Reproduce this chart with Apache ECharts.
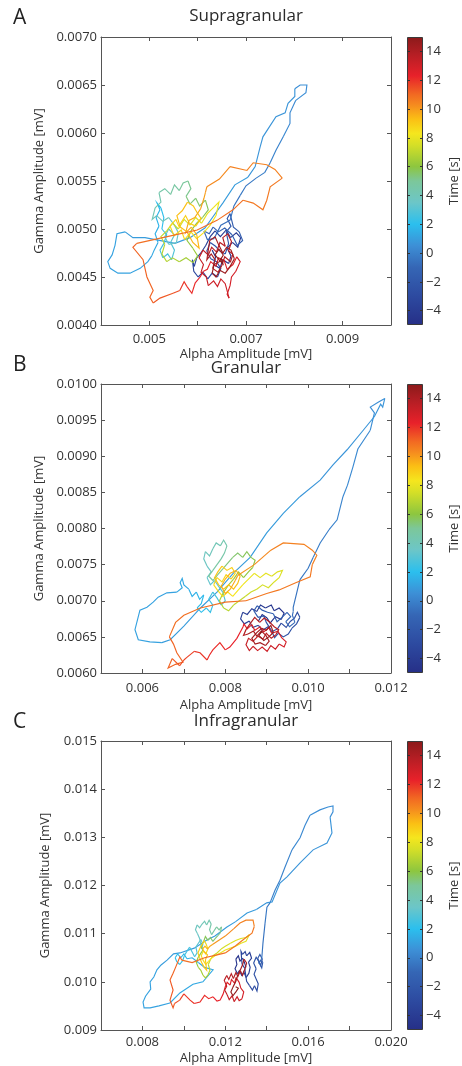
<!DOCTYPE html>
<html><head><meta charset="utf-8">
<script src="https://cdn.jsdelivr.net/npm/echarts@6/dist/echarts.min.js"></script>
<style>html,body{margin:0;padding:0;background:#fff}#c{width:462px;height:1066px}</style>
</head><body><div id="c"></div>
<script>
// ---------- labels ----------
const panelLetters = ['A', 'B', 'C'];
const panelTitles = ['Supragranular', 'Granular', 'Infragranular'];
const xName = 'Alpha Amplitude [mV]';
const yName = 'Gamma Amplitude [mV]';
const cbName = 'Time [s]';

// ---------- axes ----------
const xRanges = [[0.004, 0.010], [0.005, 0.012], [0.006, 0.020]];
const yRanges = [[0.0040, 0.0070], [0.0060, 0.0100], [0.009, 0.015]];
const xTickVals = [[0.005, 0.006, 0.007, 0.008, 0.009], [0.006, 0.007, 0.008, 0.009, 0.010, 0.011], [0.008, 0.010, 0.012, 0.014, 0.016, 0.018]];
const xLabelVals = [[0.005, 0.007, 0.009], [0.006, 0.008, 0.010, 0.012], [0.008, 0.012, 0.016, 0.020]];
const xDecimals = [3, 3, 3];
const yLabelVals = [
  [0.0040, 0.0045, 0.0050, 0.0055, 0.0060, 0.0065, 0.0070],
  [0.0060, 0.0065, 0.0070, 0.0075, 0.0080, 0.0085, 0.0090, 0.0095, 0.0100],
  [0.009, 0.010, 0.011, 0.012, 0.013, 0.014, 0.015]
];
const yDecimals = [4, 4, 3];
const timeRange = [-5, 15];
const timeTicks = [-4, -2, 0, 2, 4, 6, 8, 10, 12, 14];

// colormap (time -> colour)
const cmapTimes = [-5, -3, -1, 0.5, 2, 3.5, 5, 6, 7.5, 8.3, 9.3, 10.3, 11, 12.3, 13.8, 15];
const cmapColors = ['#262f87', '#2d4aa0', '#3566b5', '#3d8fd6', '#2bbfee', '#6cc6c8', '#7cc79a', '#8dc63f', '#d5df27', '#f5e61e', '#fbbf14', '#f58a1f', '#f26a22', '#e8212a', '#b51e24', '#8b1a1a'];

// ---------- trajectories: [alpha mV, gamma mV, time s] ----------
const A_traj = [
[0.00630,0.00478,-5.0],[0.00637,0.00471,-4.92],[0.00633,0.00463,-4.84],[0.00646,0.00459,-4.76],[0.00652,0.00468,-4.68],[0.00664,0.00464,-4.6],[0.00669,0.00472,-4.52],[0.00661,0.00480,-4.44],[0.00672,0.00486,-4.36],[0.00683,0.00481,-4.28],[0.00689,0.00491,-4.2],[0.00680,0.00496,-4.12],[0.00668,0.00491,-4.04],[0.00659,0.00499,-3.96],[0.00647,0.00492,-3.88],[0.00636,0.00498,-3.8],[0.00626,0.00492,-3.72],[0.00617,0.00483,-3.64],[0.00608,0.00476,-3.56],[0.00598,0.00470,-3.48],[0.00593,0.00461,-3.4],[0.00589,0.00468,-3.32],[0.00592,0.00456,-3.24],[0.00601,0.00450,-3.16],[0.00611,0.00455,-3.08],[0.00621,0.00448,-3.0],[0.00630,0.00454,-2.92],[0.00641,0.00450,-2.84],[0.00648,0.00459,-2.76],[0.00639,0.00466,-2.68],[0.00627,0.00469,-2.6],[0.00619,0.00477,-2.52],[0.00626,0.00486,-2.44],[0.00637,0.00482,-2.36],[0.00646,0.00477,-2.28],[0.00657,0.00474,-2.2],[0.00664,0.00485,-2.12],[0.00659,0.00497,-2.04],[0.00669,0.00503,-1.96],[0.00661,0.00511,-1.88],[0.00667,0.00516,-1.8],[0.00674,0.00502,-1.72],[0.00686,0.00497,-1.64],[0.00693,0.00488,-1.56],[0.00682,0.00483,-1.48],[0.00671,0.00494,-1.4],[0.00656,0.00501,-1.32],[0.00643,0.00497,-1.24],[0.00632,0.00502,-1.16],[0.00624,0.00495,-1.08],[0.00613,0.00498,-1.0],[0.00620,0.00489,-0.92],[0.00634,0.00490,-0.84],[0.00648,0.00504,-0.76],[0.00667,0.00509,-0.7],
[0.00675,0.00524,-0.5],[0.00688,0.00535,-0.4],[0.00700,0.00545,-0.3],[0.00721,0.00553,-0.2],[0.00739,0.00559,-0.1],[0.00750,0.00569,0.0],[0.00762,0.00582,0.1],[0.00777,0.00596,0.2],[0.00791,0.00610,0.3],[0.00791,0.00621,0.35],[0.00803,0.00634,0.4],[0.00824,0.00642,0.45],[0.00826,0.00650,0.5],[0.00812,0.00650,0.55],[0.00801,0.00646,0.6],[0.00801,0.00638,0.62],[0.00787,0.00631,0.65],[0.00781,0.00621,0.68],[0.00762,0.00617,0.7],[0.00735,0.00596,0.72],[0.00729,0.00585,0.75],[0.00719,0.00565,0.78],[0.00704,0.00554,0.8],[0.00677,0.00546,0.82],[0.00652,0.00527,0.85],[0.00632,0.00513,0.88],[0.00615,0.00501,0.9],[0.00584,0.00491,0.92],[0.00553,0.00485,0.94],[0.00491,0.00491,0.96],[0.00466,0.00491,0.98],[0.00450,0.00497,1.0],[0.00433,0.00495,1.02],[0.00429,0.00483,1.04],[0.00423,0.00473,1.06],[0.00414,0.00466,1.08],[0.00419,0.00459,1.1],[0.00435,0.00454,1.12],[0.00460,0.00454,1.14],[0.00481,0.00459,1.16],[0.00497,0.00466,1.18],[0.00505,0.00472,1.2],
[0.00510,0.00478,1.3],[0.00518,0.00486,1.4],[0.00512,0.00495,1.5],[0.00520,0.00503,1.6],[0.00514,0.00512,1.7],[0.00522,0.00520,1.8],[0.00516,0.00527,1.9],[0.00524,0.00522,2.0],[0.00530,0.00512,2.1],[0.00526,0.00500,2.2],[0.00536,0.00494,2.3],[0.00530,0.00485,2.4],[0.00522,0.00478,2.5],[0.00528,0.00470,2.6],[0.00538,0.00474,2.7],[0.00546,0.00468,2.8],[0.00552,0.00478,2.9],[0.00544,0.00486,3.0],[0.00552,0.00494,3.1],[0.00540,0.00500,3.2],[0.00532,0.00492,3.3],[0.00540,0.00484,3.4],[0.00556,0.00486,3.5],[0.00560,0.00496,3.6],
[0.00552,0.00504,3.7],[0.00540,0.00512,3.8],[0.00528,0.00508,3.9],[0.00515,0.00514,4.0],[0.00506,0.00510,4.1],[0.00512,0.00522,4.2],[0.00524,0.00528,4.3],[0.00520,0.00538,4.4],[0.00532,0.00542,4.5],[0.00544,0.00536,4.6],[0.00552,0.00546,4.7],[0.00562,0.00540,4.8],[0.00570,0.00548,4.9],[0.00580,0.00550,5.0],[0.00586,0.00542,5.1],[0.00576,0.00534,5.2],[0.00584,0.00526,5.3],[0.00596,0.00532,5.4],[0.00604,0.00524,5.5],[0.00616,0.00530,5.6],[0.00622,0.00520,5.7],[0.00610,0.00512,5.8],[0.00598,0.00506,5.9],[0.00586,0.00498,6.0],[0.00578,0.00488,6.1],
[0.00590,0.00480,6.2],[0.00600,0.00472,6.3],[0.00590,0.00465,6.4],[0.00576,0.00470,6.5],[0.00562,0.00466,6.6],[0.00548,0.00470,6.7],[0.00536,0.00466,6.8],[0.00526,0.00474,6.9],[0.00532,0.00484,7.0],[0.00524,0.00492,7.1],[0.00536,0.00498,7.2],[0.00548,0.00506,7.3],[0.00560,0.00500,7.4],[0.00572,0.00510,7.5],[0.00584,0.00504,7.6],[0.00596,0.00512,7.7],[0.00608,0.00506,7.8],[0.00620,0.00516,7.9],[0.00632,0.00522,8.0],[0.00644,0.00528,8.1],[0.00638,0.00514,8.2],[0.00626,0.00504,8.3],[0.00612,0.00496,8.4],
[0.00598,0.00490,8.5],[0.00586,0.00497,8.55],[0.00573,0.00489,8.6],[0.00566,0.00499,8.65],[0.00551,0.00493,8.7],[0.00543,0.00503,8.75],[0.00555,0.00510,8.8],[0.00561,0.00503,8.85],[0.00575,0.00514,8.9],[0.00583,0.00506,8.95],[0.00596,0.00503,9.0],[0.00607,0.00511,9.05],[0.00599,0.00517,9.1],[0.00591,0.00524,9.15],[0.00579,0.00528,9.2],[0.00568,0.00519,9.25],[0.00557,0.00514,9.3],[0.00564,0.00502,9.35],[0.00578,0.00497,9.4],[0.00590,0.00486,9.45],[0.00603,0.00480,9.5],[0.00598,0.00494,9.55],[0.00587,0.00502,9.6],[0.00575,0.00496,9.65],[0.00582,0.00509,9.7],[0.00594,0.00512,9.75],[0.00606,0.00521,9.8],[0.00613,0.00532,9.85],[0.00616,0.00538,9.9],
[0.00619,0.00544,10.3],[0.00645,0.00552,10.34],[0.00667,0.00565,10.38],[0.00702,0.00561,10.42],[0.00715,0.00569,10.46],[0.00743,0.00567,10.5],[0.00760,0.00562,10.54],[0.00775,0.00553,10.58],[0.00750,0.00544,10.62],[0.00743,0.00530,10.66],[0.00735,0.00520,10.7],[0.00715,0.00527,10.74],[0.00694,0.00530,10.78],[0.00673,0.00520,10.82],[0.00640,0.00509,10.86],[0.00599,0.00499,10.9],[0.00537,0.00492,10.94],[0.00474,0.00485,10.98],[0.00466,0.00481,11.02],[0.00487,0.00468,11.06],[0.00495,0.00450,11.1],[0.00508,0.00436,11.14],[0.00501,0.00429,11.18],[0.00508,0.00423,11.22],[0.00522,0.00428,11.26],[0.00549,0.00433,11.3],
[0.00563,0.00436,11.8],[0.00572,0.00445,11.9],[0.00578,0.00440,12.0],[0.00588,0.00433,12.1],[0.00595,0.00444,12.2],[0.00605,0.00450,12.3],[0.00612,0.00456,12.4],
[0.00620,0.00458,12.5],[0.00627,0.00466,12.54],[0.00638,0.00461,12.58],[0.00643,0.00470,12.62],[0.00655,0.00467,12.66],[0.00661,0.00458,12.7],[0.00673,0.00463,12.74],[0.00681,0.00471,12.78],[0.00688,0.00466,12.82],[0.00679,0.00456,12.86],[0.00670,0.00450,12.9],[0.00667,0.00441,12.94],[0.00661,0.00432,12.98],[0.00665,0.00428,13.0],[0.00657,0.00443,13.04],[0.00648,0.00448,13.08],[0.00641,0.00440,13.12],[0.00633,0.00446,13.16],[0.00622,0.00441,13.2],[0.00618,0.00450,13.24],[0.00607,0.00455,13.28],[0.00612,0.00463,13.32],[0.00603,0.00470,13.36],[0.00611,0.00478,13.4],[0.00622,0.00473,13.44],[0.00629,0.00481,13.48],[0.00639,0.00476,13.52],[0.00646,0.00486,13.56],[0.00657,0.00482,13.6],[0.00652,0.00491,13.64],[0.00662,0.00495,13.68],[0.00670,0.00487,13.72],[0.00664,0.00477,13.76],[0.00673,0.00474,13.8],[0.00668,0.00466,13.84],[0.00656,0.00471,13.88],[0.00650,0.00462,13.92],[0.00642,0.00455,13.96],[0.00631,0.00459,14.0],[0.00636,0.00468,14.04],[0.00628,0.00474,14.08],[0.00619,0.00468,14.12],[0.00625,0.00488,14.16],[0.00636,0.00492,14.2],[0.00643,0.00484,14.24],[0.00652,0.00475,14.28],[0.00660,0.00481,14.32],[0.00669,0.00478,14.36],[0.00676,0.00469,14.4],[0.00666,0.00460,14.44],[0.00657,0.00454,14.48],[0.00646,0.00457,14.52],[0.00638,0.00450,14.56],[0.00630,0.00454,14.6],[0.00634,0.00463,14.64],[0.00645,0.00466,14.68],[0.00653,0.00473,14.72],[0.00644,0.00479,14.76],[0.00636,0.00473,14.8],[0.00644,0.00468,14.85],[0.00652,0.00464,14.9],[0.00648,0.00470,15.0]
];

const B_traj = [
[0.00880,0.00672,-5.0],[0.00889,0.00681,-4.92],[0.00901,0.00676,-4.84],[0.00908,0.00669,-4.76],[0.00921,0.00678,-4.68],[0.00935,0.00674,-4.6],[0.00942,0.00683,-4.52],[0.00930,0.00690,-4.44],[0.00918,0.00686,-4.36],[0.00911,0.00694,-4.28],[0.00897,0.00690,-4.2],[0.00885,0.00694,-4.12],[0.00876,0.00685,-4.04],[0.00864,0.00689,-3.96],[0.00853,0.00681,-3.88],[0.00842,0.00684,-3.8],[0.00837,0.00675,-3.72],[0.00846,0.00668,-3.64],[0.00858,0.00672,-3.56],[0.00866,0.00663,-3.48],[0.00880,0.00666,-3.4],[0.00889,0.00659,-3.32],[0.00903,0.00664,-3.24],[0.00912,0.00657,-3.16],[0.00926,0.00661,-3.08],[0.00935,0.00669,-3.0],[0.00947,0.00663,-2.92],[0.00956,0.00671,-2.84],[0.00967,0.00676,-2.76],[0.00974,0.00684,-2.68],[0.00980,0.00677,-2.6],[0.00972,0.00668,-2.52],[0.00961,0.00662,-2.44],[0.00952,0.00654,-2.36],[0.00940,0.00650,-2.28],[0.00928,0.00655,-2.2],[0.00919,0.00649,-2.12],[0.00911,0.00659,-2.04],[0.00899,0.00670,-1.96],[0.00893,0.00679,-1.88],[0.00879,0.00677,-1.8],[0.00869,0.00686,-1.72],[0.00877,0.00693,-1.64],[0.00889,0.00687,-1.56],[0.00902,0.00684,-1.48],[0.00916,0.00682,-1.4],[0.00925,0.00671,-1.32],[0.00937,0.00677,-1.24],[0.00949,0.00684,-1.16],[0.00958,0.00678,-1.08],[0.00946,0.00671,-1.0],[0.00955,0.00664,-0.92],[0.00968,0.00670,-0.84],[0.00962,0.00680,-0.76],[0.00964,0.00685,-0.7],
[0.00964,0.00691,-0.5],[0.00980,0.00729,-0.4],[0.01000,0.00745,-0.3],[0.01012,0.00760,-0.2],[0.01029,0.00780,-0.1],[0.01050,0.00798,0.0],[0.01070,0.00812,0.1],[0.01084,0.00844,0.2],[0.01095,0.00860,0.25],[0.01108,0.00885,0.3],[0.01120,0.00910,0.35],[0.01150,0.00936,0.4],[0.01160,0.00960,0.45],[0.01150,0.00968,0.5],[0.01170,0.00975,0.55],[0.01185,0.00980,0.6],[0.01180,0.00968,0.62],[0.01175,0.00972,0.65],
[0.01160,0.00955,0.68],[0.01133,0.00936,0.7],[0.01094,0.00909,0.72],[0.01060,0.00888,0.75],[0.01029,0.00867,0.78],[0.00980,0.00844,0.8],[0.00940,0.00821,0.82],[0.00900,0.00794,0.85],[0.00860,0.00760,0.88],[0.00819,0.00738,0.9],[0.00780,0.00712,0.92],[0.00740,0.00690,0.94],[0.00700,0.00665,0.96],[0.00667,0.00646,0.98],
[0.00647,0.00642,1.0],[0.00618,0.00643,1.02],[0.00590,0.00646,1.04],[0.00582,0.00660,1.06],[0.00590,0.00678,1.08],[0.00594,0.00687,1.1],[0.00611,0.00691,1.12],[0.00626,0.00698,1.14],[0.00638,0.00705,1.16],[0.00659,0.00711,1.18],[0.00683,0.00712,1.2],[0.00696,0.00718,1.22],[0.00691,0.00725,1.24],[0.00696,0.00731,1.26],
[0.00700,0.00722,1.3],[0.00712,0.00716,1.4],[0.00720,0.00706,1.5],[0.00730,0.00712,1.6],[0.00738,0.00702,1.7],[0.00748,0.00708,1.8],[0.00742,0.00696,1.9],[0.00732,0.00690,2.0],[0.00742,0.00684,2.1],[0.00754,0.00690,2.2],[0.00764,0.00684,2.3],[0.00770,0.00694,2.4],[0.00760,0.00702,2.5],[0.00770,0.00712,2.6],[0.00780,0.00704,2.7],[0.00790,0.00694,2.8],[0.00800,0.00700,2.9],[0.00794,0.00712,3.0],[0.00784,0.00720,3.1],[0.00774,0.00728,3.2],[0.00764,0.00722,3.3],[0.00756,0.00732,3.4],[0.00766,0.00740,3.5],
[0.00756,0.00748,3.6],[0.00748,0.00758,3.7],[0.00752,0.00768,3.8],[0.00762,0.00762,3.9],[0.00770,0.00772,4.0],[0.00778,0.00780,4.1],[0.00788,0.00776,4.2],[0.00796,0.00784,4.3],[0.00804,0.00776,4.4],[0.00798,0.00766,4.5],[0.00790,0.00758,4.6],[0.00780,0.00750,4.7],[0.00770,0.00742,4.8],[0.00760,0.00734,4.9],[0.00770,0.00728,5.0],[0.00782,0.00736,5.1],[0.00794,0.00744,5.2],[0.00806,0.00752,5.3],[0.00818,0.00760,5.4],[0.00830,0.00766,5.5],[0.00842,0.00760,5.6],[0.00852,0.00768,5.7],[0.00862,0.00760,5.8],[0.00872,0.00756,5.9],[0.00866,0.00746,6.0],
[0.00856,0.00740,6.1],[0.00844,0.00732,6.2],[0.00832,0.00740,6.3],[0.00820,0.00730,6.4],[0.00808,0.00722,6.5],[0.00796,0.00712,6.6],[0.00786,0.00700,6.7],[0.00796,0.00690,6.8],[0.00808,0.00686,6.9],[0.00820,0.00694,7.0],[0.00834,0.00700,7.1],[0.00848,0.00706,7.2],[0.00862,0.00712,7.3],[0.00876,0.00716,7.4],[0.00890,0.00722,7.5],[0.00904,0.00718,7.55],[0.00918,0.00726,7.6],[0.00930,0.00732,7.65],[0.00938,0.00742,7.7],[0.00926,0.00740,7.75],[0.00912,0.00734,7.8],[0.00898,0.00738,7.85],[0.00884,0.00732,7.9],[0.00870,0.00738,8.0],[0.00856,0.00730,8.1],[0.00842,0.00722,8.2],[0.00830,0.00714,8.3],
[0.00818,0.00706,8.4],[0.00806,0.00712,8.45],[0.00794,0.00706,8.5],[0.00782,0.00714,8.55],[0.00772,0.00722,8.6],[0.00780,0.00732,8.65],[0.00792,0.00726,8.7],[0.00802,0.00736,8.75],[0.00814,0.00730,8.8],[0.00824,0.00738,8.85],[0.00816,0.00746,8.9],[0.00804,0.00742,8.95],[0.00792,0.00748,9.0],[0.00782,0.00740,9.05],[0.00774,0.00732,9.1],[0.00784,0.00722,9.15],[0.00796,0.00716,9.2],[0.00808,0.00722,9.25],[0.00820,0.00716,9.3],[0.00830,0.00724,9.35],[0.00836,0.00734,9.4],[0.00826,0.00742,9.45],[0.00812,0.00738,9.5],[0.00800,0.00730,9.55],[0.00790,0.00720,9.6],[0.00800,0.00710,9.65],[0.00812,0.00716,9.7],[0.00824,0.00728,9.8],[0.00830,0.00735,9.9],
[0.00870,0.00750,10.34],[0.00910,0.00770,10.38],[0.00940,0.00780,10.42],[0.00990,0.00778,10.46],[0.01010,0.00770,10.5],[0.01021,0.00763,10.54],[0.01010,0.00750,10.58],[0.01005,0.00733,10.62],[0.00970,0.00725,10.66],[0.00930,0.00715,10.7],[0.00900,0.00710,10.74],[0.00850,0.00700,10.78],[0.00800,0.00698,10.82],[0.00740,0.00690,10.86],[0.00700,0.00680,10.9],[0.00680,0.00670,10.94],[0.00665,0.00650,10.98],[0.00675,0.00640,11.02],[0.00683,0.00628,11.06],[0.00698,0.00615,11.1],[0.00680,0.00612,11.14],[0.00662,0.00607,11.18],[0.00672,0.00620,11.22],[0.00690,0.00610,11.26],
[0.00700,0.00618,11.6],[0.00708,0.00622,11.7],[0.00725,0.00630,11.8],[0.00739,0.00628,11.9],[0.00756,0.00618,12.0],[0.00762,0.00625,12.05],[0.00770,0.00632,12.1],[0.00787,0.00642,12.15],[0.00800,0.00632,12.2],[0.00811,0.00636,12.25],[0.00828,0.00648,12.3],[0.00843,0.00664,12.4],
[0.00845,0.00668,12.5],[0.00853,0.00661,12.54],[0.00864,0.00667,12.58],[0.00871,0.00659,12.62],[0.00884,0.00664,12.66],[0.00893,0.00657,12.7],[0.00905,0.00663,12.74],[0.00912,0.00655,12.78],[0.00927,0.00658,12.82],[0.00936,0.00649,12.86],[0.00947,0.00643,12.9],[0.00942,0.00636,12.94],[0.00930,0.00640,12.98],[0.00921,0.00633,13.02],[0.00910,0.00638,13.06],[0.00901,0.00630,13.1],[0.00889,0.00636,13.14],[0.00878,0.00631,13.18],[0.00867,0.00637,13.22],[0.00858,0.00631,13.26],[0.00850,0.00639,13.3],[0.00856,0.00648,13.34],[0.00867,0.00644,13.38],[0.00879,0.00651,13.42],[0.00891,0.00647,13.46],[0.00899,0.00655,13.5],[0.00911,0.00648,13.54],[0.00922,0.00653,13.58],[0.00929,0.00660,13.62],[0.00918,0.00664,13.66],[0.00906,0.00671,13.7],[0.00894,0.00676,13.74],[0.00883,0.00670,13.78],[0.00871,0.00677,13.82],[0.00861,0.00669,13.86],[0.00850,0.00660,13.9],[0.00844,0.00652,13.94],[0.00855,0.00654,13.98],[0.00868,0.00658,14.02],[0.00876,0.00651,14.06],[0.00887,0.00658,14.1],[0.00898,0.00652,14.14],[0.00906,0.00644,14.18],[0.00897,0.00638,14.22],[0.00884,0.00642,14.26],[0.00872,0.00640,14.3],[0.00864,0.00648,14.34],[0.00876,0.00656,14.38],[0.00888,0.00662,14.42],[0.00899,0.00659,14.46],[0.00910,0.00666,14.5],[0.00916,0.00656,14.55],[0.00905,0.00650,14.6],[0.00893,0.00645,14.65],[0.00881,0.00652,14.7],[0.00889,0.00658,14.8],[0.00884,0.00655,15.0]
];

const C_traj = [
[0.01300,0.01030,-5.0],[0.01292,0.01041,-4.92],[0.01284,0.01049,-4.84],[0.01271,0.01043,-4.76],[0.01263,0.01054,-4.68],[0.01251,0.01047,-4.6],[0.01256,0.01036,-4.52],[0.01247,0.01027,-4.44],[0.01259,0.01017,-4.36],[0.01268,0.01023,-4.28],[0.01281,0.01012,-4.2],[0.01289,0.01021,-4.12],[0.01301,0.01009,-4.04],[0.01314,0.01018,-3.96],[0.01320,0.01030,-3.88],[0.01312,0.01041,-3.8],[0.01327,0.01049,-3.72],[0.01318,0.01061,-3.64],[0.01303,0.01054,-3.56],[0.01296,0.01063,-3.48],[0.01283,0.01057,-3.4],[0.01276,0.01063,-3.32],[0.01281,0.01037,-3.24],[0.01294,0.01028,-3.16],[0.01303,0.01001,-3.08],[0.01317,0.00992,-3.0],[0.01331,0.00983,-2.92],[0.01341,0.00992,-2.84],[0.01353,0.00981,-2.76],[0.01359,0.00996,-2.68],[0.01349,0.01006,-2.6],[0.01339,0.01016,-2.52],[0.01349,0.01027,-2.44],[0.01337,0.01039,-2.36],[0.01349,0.01051,-2.28],[0.01361,0.01043,-2.2],[0.01371,0.01034,-2.12],[0.01379,0.01047,-2.04],[0.01367,0.01057,-1.96],[0.01357,0.01049,-1.88],[0.01364,0.01039,-1.8],[0.01376,0.01029,-1.72],[0.01381,0.01041,-1.64],[0.01370,0.01045,-1.5],[0.01362,0.01038,-1.3],[0.01372,0.01046,-1.0],[0.01376,0.01048,-0.7],
[0.01382,0.01081,-0.5],[0.01392,0.01122,-0.4],[0.01401,0.01155,-0.3],[0.01416,0.01164,-0.2],[0.01440,0.01190,-0.1],[0.01464,0.01211,0.0],[0.01488,0.01238,0.1],[0.01522,0.01274,0.2],[0.01561,0.01299,0.3],[0.01585,0.01325,0.35],[0.01609,0.01346,0.4],[0.01657,0.01357,0.45],[0.01696,0.01363,0.5],[0.01720,0.01365,0.55],[0.01720,0.01353,0.58],[0.01706,0.01342,0.6],[0.01715,0.01309,0.62],[0.01691,0.01288,0.65],[0.01624,0.01274,0.68],[0.01561,0.01247,0.7],[0.01498,0.01218,0.72],[0.01464,0.01205,0.74],[0.01426,0.01166,0.76],[0.01400,0.01164,0.78],[0.01350,0.01150,0.8],[0.01305,0.01143,0.82],[0.01250,0.01125,0.84],[0.01208,0.01114,0.86],[0.01150,0.01095,0.88],[0.01111,0.01087,0.9],[0.01050,0.01070,0.92],[0.00981,0.01060,0.94],[0.00950,0.01058,0.96],[0.00919,0.01045,0.98],[0.00890,0.01035,1.0],[0.00870,0.01025,1.02],[0.00855,0.01010,1.04],[0.00837,0.01000,1.06],[0.00840,0.00985,1.08],[0.00815,0.00970,1.1],[0.00803,0.00958,1.12],[0.00808,0.00946,1.14],[0.00837,0.00946,1.16],[0.00880,0.00950,1.18],[0.00933,0.00956,1.2],[0.00981,0.00977,1.22],[0.01044,0.00995,1.24],[0.01092,0.01000,1.26],[0.01141,0.01025,1.28],
[0.01100,0.01030,1.3],[0.01070,0.01040,1.4],[0.01040,0.01050,1.5],[0.01015,0.01048,1.6],[0.01000,0.01058,1.7],[0.00985,0.01050,1.8],[0.00970,0.01058,1.9],[0.00958,0.01050,2.0],[0.00966,0.01042,2.1],[0.00980,0.01036,2.2],[0.00994,0.01044,2.3],[0.01004,0.01056,2.4],[0.01016,0.01064,2.5],[0.01028,0.01072,2.6],[0.01040,0.01062,2.7],[0.01052,0.01052,2.8],[0.01064,0.01060,2.9],[0.01058,0.01072,3.0],[0.01070,0.01080,3.1],[0.01082,0.01088,3.2],[0.01092,0.01078,3.3],[0.01086,0.01068,3.4],
[0.01076,0.01090,3.5],[0.01066,0.01100,3.6],[0.01056,0.01108,3.7],[0.01064,0.01118,3.8],[0.01076,0.01112,3.9],[0.01088,0.01120,4.0],[0.01100,0.01126,4.1],[0.01110,0.01118,4.2],[0.01122,0.01128,4.3],[0.01132,0.01120,4.4],[0.01124,0.01108,4.5],[0.01134,0.01098,4.6],[0.01146,0.01106,4.7],[0.01158,0.01114,4.8],[0.01170,0.01108,4.9],[0.01182,0.01114,5.0],[0.01176,0.01102,5.1],[0.01164,0.01096,5.2],[0.01152,0.01090,5.3],[0.01140,0.01084,5.4],[0.01128,0.01092,5.5],[0.01116,0.01086,5.6],[0.01104,0.01094,5.7],[0.01094,0.01082,5.8],[0.01084,0.01074,5.9],[0.01092,0.01066,6.0],
[0.01080,0.01058,6.1],[0.01068,0.01050,6.2],[0.01060,0.01040,6.3],[0.01070,0.01030,6.4],[0.01082,0.01024,6.5],[0.01092,0.01014,6.6],[0.01104,0.01008,6.7],[0.01116,0.01014,6.8],[0.01126,0.01024,6.9],[0.01118,0.01036,7.0],[0.01128,0.01046,7.1],[0.01140,0.01054,7.2],[0.01160,0.01060,7.3],[0.01180,0.01068,7.4],[0.01200,0.01074,7.5],[0.01225,0.01080,7.6],[0.01250,0.01086,7.65],[0.01275,0.01090,7.7],[0.01300,0.01092,7.75],[0.01316,0.01098,7.8],[0.01300,0.01084,7.85],[0.01276,0.01080,7.9],[0.01250,0.01074,7.95],[0.01225,0.01070,8.0],[0.01200,0.01066,8.05],[0.01176,0.01060,8.1],[0.01150,0.01054,8.2],[0.01130,0.01048,8.3],
[0.01118,0.01042,8.4],[0.01106,0.01036,8.45],[0.01094,0.01044,8.5],[0.01084,0.01054,8.55],[0.01094,0.01064,8.6],[0.01106,0.01058,8.65],[0.01116,0.01068,8.7],[0.01108,0.01078,8.75],[0.01098,0.01086,8.8],[0.01088,0.01078,8.85],[0.01078,0.01070,8.9],[0.01068,0.01060,8.95],[0.01076,0.01050,9.0],[0.01086,0.01040,9.05],[0.01098,0.01030,9.1],[0.01110,0.01024,9.15],[0.01104,0.01046,9.2],[0.01114,0.01056,9.25],[0.01100,0.01062,9.3],[0.01090,0.01068,9.4],[0.01102,0.01074,9.5],[0.01114,0.01068,9.6],[0.01126,0.01074,9.7],[0.01140,0.01078,9.8],
[0.01200,0.01095,10.35],[0.01240,0.01110,10.4],[0.01271,0.01122,10.45],[0.01300,0.01128,10.5],[0.01334,0.01128,10.55],[0.01340,0.01115,10.6],[0.01329,0.01101,10.65],[0.01300,0.01092,10.7],[0.01250,0.01075,10.75],[0.01200,0.01060,10.8],[0.01150,0.01055,10.85],[0.01100,0.01050,10.9],[0.01040,0.01040,10.95],[0.00990,0.01045,11.0],[0.00981,0.01052,11.05],[0.00960,0.01030,11.1],[0.00948,0.01018,11.15],[0.00933,0.01004,11.2],[0.00948,0.00983,11.25],[0.00933,0.00962,11.3],[0.00948,0.00946,11.35],[0.00955,0.00955,11.4],
[0.00980,0.00962,11.7],[0.01000,0.00975,11.8],[0.01030,0.00962,11.9],[0.01050,0.00955,12.0],[0.01078,0.00958,12.05],[0.01100,0.00972,12.1],[0.01120,0.00965,12.15],[0.01141,0.00969,12.2],[0.01160,0.00960,12.25],[0.01175,0.00962,12.3],[0.01190,0.00975,12.35],
[0.01200,0.00990,12.5],[0.01209,0.00999,12.55],[0.01223,0.00993,12.6],[0.01230,0.01005,12.66],[0.01245,0.00997,12.72],[0.01252,0.01009,12.78],[0.01267,0.00999,12.84],[0.01275,0.00987,12.9],[0.01289,0.00979,12.96],[0.01281,0.00965,13.02],[0.01267,0.00961,13.08],[0.01257,0.00969,13.14],[0.01243,0.00959,13.2],[0.01233,0.00971,13.26],[0.01219,0.00963,13.32],[0.01209,0.00973,13.38],[0.01197,0.00983,13.44],[0.01207,0.00991,13.5],[0.01195,0.01003,13.56],[0.01207,0.01013,13.62],[0.01217,0.01005,13.68],[0.01229,0.01017,13.74],[0.01239,0.01007,13.8],[0.01251,0.01019,13.86],[0.01261,0.01011,13.92],[0.01273,0.01023,13.98],[0.01283,0.01013,14.04],[0.01295,0.01027,14.1],[0.01303,0.01039,14.16],[0.01291,0.01047,14.22],[0.01283,0.01035,14.28],[0.01273,0.01025,14.34],[0.01261,0.01015,14.4],[0.01251,0.01001,14.48],[0.01237,0.00989,14.56],[0.01227,0.00979,14.64],[0.01237,0.00971,14.72],[0.01251,0.00979,14.8],[0.01263,0.00987,14.9],[0.01250,0.00990,15.0]
];

const trajectories = [A_traj, B_traj, C_traj];

// ---------- helpers ----------
function hexToRgb(h) { return [parseInt(h.slice(1,3),16), parseInt(h.slice(3,5),16), parseInt(h.slice(5,7),16)]; }
function colorAt(t) {
  if (t <= cmapTimes[0]) return cmapColors[0];
  for (let i = 1; i < cmapTimes.length; i++) {
    if (t <= cmapTimes[i]) {
      const f = (t - cmapTimes[i-1]) / (cmapTimes[i] - cmapTimes[i-1]);
      const a = hexToRgb(cmapColors[i-1]), b = hexToRgb(cmapColors[i]);
      const c = a.map((v, k) => Math.round(v + (b[k] - v) * f));
      return 'rgb(' + c.join(',') + ')';
    }
  }
  return cmapColors[cmapColors.length - 1];
}
function buildSegments(traj) {
  const segs = [];
  let cur = null, curBin = null;
  for (let i = 0; i < traj.length - 1; i++) {
    const tm = (traj[i][2] + traj[i+1][2]) / 2;
    const bin = Math.floor((tm - timeRange[0]) / 0.2);
    if (bin !== curBin) {
      cur = { coords: [[traj[i][0], traj[i][1]]], lineStyle: { color: colorAt(timeRange[0] + (bin + 0.5) * 0.2) } };
      segs.push(cur); curBin = bin;
    }
    cur.coords.push([traj[i+1][0], traj[i+1][1]]);
  }
  return segs;
}

// ---------- layout ----------
const FONT = '"Open Sans", "DejaVu Sans", sans-serif';
const TXT = '#333';
const AX = '#555';
const gridTops = [37, 384, 741];
const gridHeights = [288, 289, 289];
const plotLeft = 101, plotWidth = 290;
const cbLeft = 407, cbWidth = 23;
const letterTops = [8, 355, 712];
const titleTops = [8, 360, 713];
const xLabelMargins = [8, 9, 6];
const xNameGaps = [23, 26, 22];

const grids = [], xAxes = [], yAxes = [], series = [], graphics = [];
const gradStops = [];
for (let i = cmapTimes.length - 1; i >= 0; i--) {
  gradStops.push({ offset: (timeRange[1] - cmapTimes[i]) / (timeRange[1] - timeRange[0]), color: cmapColors[i] });
}

for (let p = 0; p < 3; p++) grids.push({ left: plotLeft, top: gridTops[p], width: plotWidth, height: gridHeights[p] });
for (let p = 0; p < 3; p++) grids.push({ left: cbLeft, top: gridTops[p], width: cbWidth, height: gridHeights[p] });

const tickStyle = { color: AX, width: 1 };
for (let p = 0; p < 3; p++) {
  const xf = v => v.toFixed(xDecimals[p]);
  const yf = v => v.toFixed(yDecimals[p]);
  xAxes.push({
    gridIndex: p, type: 'value', position: 'bottom', min: xRanges[p][0], max: xRanges[p][1],
    axisLine: { show: true, onZero: false, lineStyle: { color: AX } },
    axisTick: { show: true, inside: true, length: 4, customValues: xTickVals[p], lineStyle: tickStyle },
    axisLabel: { show: true, customValues: xLabelVals[p], formatter: xf, color: TXT, fontSize: 13, fontFamily: FONT, margin: xLabelMargins[p] },
    splitLine: { show: false },
    name: xName, nameLocation: 'middle', nameGap: xNameGaps[p],
    nameTextStyle: { color: TXT, fontSize: 13, fontFamily: FONT }, z: 5
  });
  xAxes.push({
    gridIndex: p, type: 'value', position: 'top', min: xRanges[p][0], max: xRanges[p][1],
    axisLine: { show: true, onZero: false, lineStyle: { color: AX } },
    axisTick: { show: true, inside: true, length: 4, customValues: xTickVals[p], lineStyle: tickStyle },
    axisLabel: { show: false }, splitLine: { show: false }, z: 5
  });
  yAxes.push({
    gridIndex: p, type: 'value', position: 'left', min: yRanges[p][0], max: yRanges[p][1],
    axisLine: { show: true, onZero: false, lineStyle: { color: AX } },
    axisTick: { show: true, inside: true, length: 4, customValues: yLabelVals[p], lineStyle: tickStyle },
    axisLabel: { show: true, customValues: yLabelVals[p], formatter: yf, color: TXT, fontSize: 13, fontFamily: FONT, margin: 4 },
    splitLine: { show: false },
    name: yName, nameLocation: 'middle', nameGap: 49,
    nameTextStyle: { color: TXT, fontSize: 13, fontFamily: FONT }, z: 5
  });
  yAxes.push({
    gridIndex: p, type: 'value', position: 'right', min: yRanges[p][0], max: yRanges[p][1],
    axisLine: { show: true, onZero: false, lineStyle: { color: AX } },
    axisTick: { show: true, inside: true, length: 4, customValues: yLabelVals[p], lineStyle: tickStyle },
    axisLabel: { show: false }, splitLine: { show: false }, z: 5
  });
}
for (let p = 0; p < 3; p++) {
  xAxes.push({ gridIndex: 3 + p, type: 'value', min: 0, max: 1, show: false });
  yAxes.push({
    gridIndex: 3 + p, type: 'value', position: 'left', min: timeRange[0], max: timeRange[1],
    axisLine: { show: false }, axisLabel: { show: false }, splitLine: { show: false },
    axisTick: { show: true, inside: true, length: 3, customValues: timeTicks, lineStyle: { color: '#333' } }, z: 6
  });
  yAxes.push({
    gridIndex: 3 + p, type: 'value', position: 'right', min: timeRange[0], max: timeRange[1],
    axisLine: { show: false }, splitLine: { show: false },
    axisTick: { show: true, inside: true, length: 3, customValues: timeTicks, lineStyle: { color: '#333' } },
    axisLabel: { show: true, customValues: timeTicks, color: TXT, fontSize: 13, fontFamily: FONT, margin: 3,
      formatter: v => (v < 0 ? '\u2212' + Math.abs(v) : String(v)) },
    name: cbName, nameLocation: 'middle', nameGap: 25,
    nameTextStyle: { color: TXT, fontSize: 13, fontFamily: FONT }, z: 6
  });
}

for (let p = 0; p < 3; p++) {
  series.push({
    type: 'lines', coordinateSystem: 'cartesian2d', xAxisIndex: 2 * p, yAxisIndex: 2 * p,
    polyline: true, silent: true, data: buildSegments(trajectories[p]),
    lineStyle: { width: 1.15, opacity: 1, curveness: 0 }, z: 3
  });
  series.push({
    type: 'custom', xAxisIndex: 6 + p, yAxisIndex: 6 + 2 * p, silent: true, z: 1, clip: false,
    data: [[0.5, 5]],
    renderItem: function (params, api) {
      const top = api.coord([0.5, timeRange[1]]);
      const bot = api.coord([0.5, timeRange[0]]);
      const cs = params.coordSys;
      return {
        type: 'rect',
        shape: { x: Math.round(cs.x) + 0.5, y: Math.round(top[1]) + 0.5, width: Math.round(cs.width) - 1, height: Math.round(bot[1] - top[1]) - 1 },
        style: { fill: new echarts.graphic.LinearGradient(0, 0, 0, 1, gradStops), stroke: '#3a3a3a', lineWidth: 1 }
      };
    }
  });
  graphics.push({ type: 'text', left: 13, top: letterTops[p], style: { text: panelLetters[p], font: '21px ' + FONT, fill: '#222' } });
  graphics.push({ type: 'text', x: plotLeft + plotWidth / 2, y: titleTops[p], style: { text: panelTitles[p], font: '17px ' + FONT, fill: '#2a2a2a', align: 'center', verticalAlign: 'top' } });
}

const chart = echarts.init(document.getElementById('c'), null, { renderer: 'canvas' });
chart.setOption({
  animation: false,
  backgroundColor: '#fff',
  grid: grids, xAxis: xAxes, yAxis: yAxes, series: series, graphic: graphics
});
</script>
</body></html>
